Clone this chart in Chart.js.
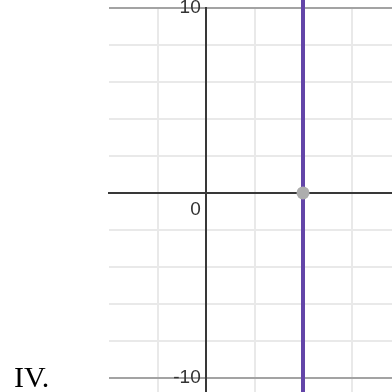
<!DOCTYPE html>
<html>
<head>
<meta charset="utf-8">
<script src="https://cdn.jsdelivr.net/npm/chart.js@4.4.1/dist/chart.umd.min.js"></script>
<style>
  html, body { margin: 0; padding: 0; background: #fff; }
  #wrap { position: relative; width: 392px; height: 392px; overflow: hidden; }
  #graphCanvas { position: absolute; left: 0; top: 0; }
  #label {
    position: absolute; left: 14px; top: 362px;
    font-family: "Liberation Serif", "Times New Roman", serif;
    font-size: 30px; line-height: 30px; color: #000;
  }
</style>
</head>
<body>
<div id="wrap">
  <canvas id="graphCanvas" width="392" height="392"></canvas>
  <div id="label">IV.</div>
</div>
<script>
// 縦線 x = 4 のグラフ

// 軸の範囲と目盛り
const xTicks = [-2, 0, 2, 4, 6];
const yTicks = [-10, -8, -6, -4, -2, 0, 2, 4, 6, 8, 10];
// 中央軸のラベルは軸線に接するので末尾に空白を入れて離す
const yLabels = { "10": "10 ", "0": ["", "0 "], "-10": "-10 " };

// 縦線のデータ
const lineX = [4, 4];
const lineY = [-11, 10.5];

// 交点
const pointX = [4];
const pointY = [0];

const gridColor = "#e9e9e9";
const edgeColor = "#a3a3a3";
const axisColor = "#383838";

const ctx = document.getElementById("graphCanvas").getContext("2d");
const graphChart = new Chart(ctx, {
  type: "scatter",
  data: {
    datasets: [
      {
        data: pointX.map((x, i) => ({ x, y: pointY[i] })),
        pointRadius: 6.5,
        pointBackgroundColor: "#adadad",
        pointBorderWidth: 0,
        showLine: false,
        order: 0,
      },
      {
        data: lineX.map((x, i) => ({ x, y: lineY[i] })),
        showLine: true,
        pointRadius: 0,
        borderColor: "#6345a8",
        borderWidth: 4,
        clip: false,
        order: 1,
      },
    ],
  },
  options: {
    responsive: false,
    animation: false,
    events: [],
    layout: { autoPadding: false, padding: { left: 109, top: 8, right: 0, bottom: 0 } },
    plugins: {
      legend: { display: false },
      tooltip: { enabled: false },
    },
    scales: {
      x: {
        type: "linear",
        min: -4,
        max: 7.67,
        position: { y: 0 },
        afterBuildTicks: (s) => { s.ticks = xTicks.map((v) => ({ value: v })); },
        afterFit: (s) => { s.paddingLeft = 0; s.paddingRight = 0; },
        grid: { color: gridColor, lineWidth: 2, drawTicks: false },
        border: { display: true, color: axisColor, width: 2 },
        ticks: { display: false, autoSkip: false },
      },
      y: {
        type: "linear",
        min: -10.76,
        max: 10,
        position: { x: 0 },
        afterBuildTicks: (s) => { s.ticks = yTicks.map((v) => ({ value: v })); },
        afterFit: (s) => { s.paddingTop = 0; s.paddingBottom = 0; },
        grid: {
          color: (c) => (c.tick && Math.abs(c.tick.value) === 10 ? edgeColor : gridColor),
          lineWidth: 2,
          drawTicks: false,
        },
        border: { display: true, color: axisColor, width: 2 },
        ticks: {
          autoSkip: false,
          padding: 6,
          color: "#333",
          font: { family: "'Liberation Sans', Arial, sans-serif", size: 19, lineHeight: 1.8 },
          callback: (v) => yLabels[String(v)] || "",
        },
      },
    },
  },
});
</script>
</body>
</html>
